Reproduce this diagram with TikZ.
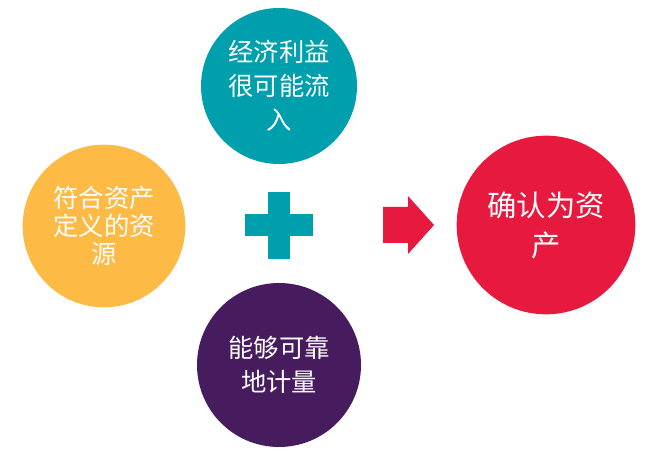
\documentclass[tikz,border=0pt]{standalone}
\usepackage{fontspec}
\setmainfont{Noto Sans CJK SC}
\definecolor{tealc}{HTML}{009FAD}
\definecolor{goldc}{HTML}{FDBA45}
\definecolor{plumc}{HTML}{461C5E}
\definecolor{redc}{HTML}{E8193E}

\begin{document}
\begin{tikzpicture}[x=.75pt,y=-.75pt,
 bub/.style={circle,inner sep=0pt,text=white,align=center},
 fsmall/.style={font=\fontsize{19pt}{25.5pt}\selectfont}]
 \useasboundingbox (0,0) rectangle (653,459);
 % conditions
 \node[bub,fill=tealc,minimum size=117pt,fsmall] (liuru) at (279,86) {经济利益\\很可能流\\入};
 \node[bub,fill=goldc,minimum size=122pt,font=\fontsize{19pt}{21pt}\selectfont] (dingyi) at (104,226) {符合资产\\定义的资\\源};
 \node[bub,fill=plumc,minimum size=123pt,font=\fontsize{19pt}{26pt}\selectfont] (jiliang) at (279,365) {能够可靠\\地计量};
 % result
 \node[bub,fill=redc,minimum size=134pt,font=\fontsize{22pt}{30pt}\selectfont] (queren) at (546,225) {确认为资\\产};
 % plus and arrow
 \fill[tealc] (245,214) rectangle (313,236);
 \fill[tealc] (268,192) rectangle (290,259);
 \fill[redc] (383,207) -- (408,207) -- (408,196) -- (434,225) -- (408,254) -- (408,243) -- (383,243) -- cycle;
\end{tikzpicture}
\end{document}
